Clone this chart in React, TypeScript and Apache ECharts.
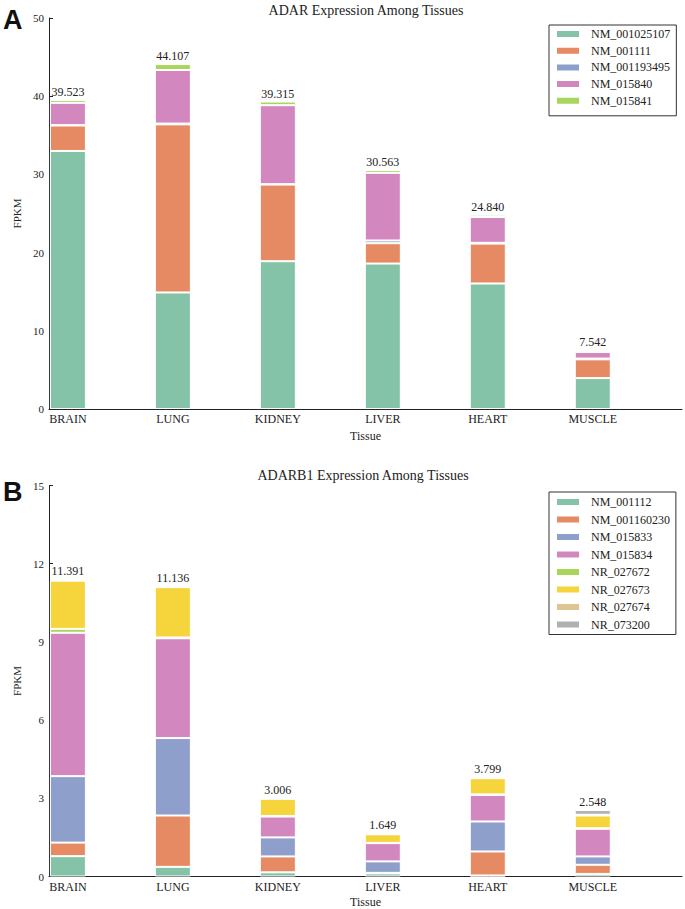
import React, { useEffect, useRef } from "react";
import * as echarts from "echarts";

const tissues = ["BRAIN", "LUNG", "KIDNEY", "LIVER", "HEART", "MUSCLE"];

// Panel A: ADAR isoforms (FPKM)
const adarNames = ["NM_001025107", "NM_001111", "NM_001193495", "NM_015840", "NM_015841"];
const adar_NM_001025107 = [33.0, 14.9, 18.9, 18.6, 16.05, 3.95];
const adar_NM_001111 = [3.25, 21.5, 9.8, 2.6, 5.1, 2.4];
const adar_NM_001193495 = [0.05, 0.1, 0.05, 0.35, 0.1, 0.1];
const adar_NM_015840 = [2.85, 6.85, 10.1, 8.65, 3.3, 0.85];
const adar_NM_015841 = [0.373, 0.757, 0.465, 0.363, 0.29, 0.242];

// Panel B: ADARB1 isoforms (FPKM)
const adarb1Names = ["NM_001112", "NM_001160230", "NM_015833", "NM_015834", "NR_027672", "NR_027673", "NR_027674", "NR_073200"];
const b_NM_001112 = [0.78, 0.37, 0.16, 0.12, 0.04, 0.1];
const b_NM_001160230 = [0.52, 1.97, 0.61, 0.02, 0.92, 0.35];
const b_NM_015833 = [2.55, 2.97, 0.73, 0.44, 1.15, 0.32];
const b_NM_015834 = [5.5, 3.83, 0.8, 0.7, 1.02, 1.06];
const b_NR_027672 = [0.15, 0.03, 0.02, 0.01, 0.02, 0.02];
const b_NR_027673 = [1.85, 1.93, 0.66, 0.33, 0.62, 0.49];
const b_NR_027674 = [0.02, 0.02, 0.01, 0.01, 0.015, 0.03];
const b_NR_073200 = [0.021, 0.016, 0.016, 0.019, 0.014, 0.178];

const adarTicks = [0, 10, 20, 30, 40, 50];
const adarb1Ticks = [0, 3, 6, 9, 12, 15];

const palette = ["#84c3a7", "#e58a62", "#8f9fcb", "#d387bf", "#a9d65a", "#f6d43c", "#dfc393", "#b0b0b0"];

const SERIF = '"Liberation Serif", "Times New Roman", serif';

export default function App() {
  const ref = useRef<HTMLDivElement>(null);

  useEffect(() => {
    if (!ref.current) return;
    const chart = echarts.init(ref.current, undefined, { renderer: "svg" });

    const adarSeriesData = [adar_NM_001025107, adar_NM_001111, adar_NM_001193495, adar_NM_015840, adar_NM_015841];
    const adarb1SeriesData = [b_NM_001112, b_NM_001160230, b_NM_015833, b_NM_015834, b_NR_027672, b_NR_027673, b_NR_027674, b_NR_073200];

    const totals = (arrs: number[][]) => tissues.map((_, i) => arrs.reduce((s, a) => s + a[i], 0));
    const adarTotals = totals(adarSeriesData);
    const adarb1Totals = totals(adarb1SeriesData);

    const tickIdx = tissues.map((_, i) => i);

    // x-range (in category index units) shown by the visible axes
    const xMin = -0.18;
    const xMax = 5.85;
    const axisLeft = 49;
    const axisWidth = 633;
    const pxPerCat = axisWidth / (xMax - xMin);
    const barGridLeft = axisLeft + (-0.5 - xMin) * pxPerCat;
    const barGridWidth = tissues.length * pxPerCat;

    // Display axes (visible)
    const makeDispX = (gridIndex: number, nameGap: number) => ({
      type: "value",
      gridIndex,
      min: xMin,
      max: xMax,
      splitLine: { show: false },
      axisLine: { show: true, onZero: false, lineStyle: { color: "#222", width: 1 } },
      axisTick: { show: true, inside: true, length: 4, customValues: tickIdx, lineStyle: { color: "#222" } },
      axisLabel: {
        customValues: tickIdx,
        formatter: (v: number) => tissues[Math.round(v)] ?? "",
        fontFamily: SERIF,
        fontSize: 12,
        color: "#222",
        margin: 4,
      },
      name: "Tissue",
      nameLocation: "middle",
      nameGap,
      nameTextStyle: { fontFamily: SERIF, fontSize: 12, color: "#222" },
    });

    const makeDispY = (gridIndex: number, max: number, interval: number) => ({
      type: "value",
      gridIndex,
      min: 0,
      max,
      interval,
      splitLine: { show: false },
      axisLine: { show: true, onZero: false, lineStyle: { color: "#222", width: 1 } },
      axisTick: { show: true, inside: true, length: 4, lineStyle: { color: "#222" } },
      axisLabel: { fontFamily: SERIF, fontSize: 11, color: "#222", margin: 5 },
      name: "FPKM",
      nameLocation: "middle",
      nameRotate: 90,
      nameGap: 19,
      nameTextStyle: { fontFamily: SERIF, fontSize: 11, color: "#222" },
    });

    // Bar axes (hidden)
    const makeBarX = (gridIndex: number) => ({
      type: "category",
      gridIndex,
      data: tissues,
      show: false,
      boundaryGap: true,
    });
    const makeBarY = (gridIndex: number, max: number) => ({
      type: "value",
      gridIndex,
      min: 0,
      max,
      show: false,
      splitLine: { show: false },
    });

    const makeSeries = (names: string[], datas: number[][], idx: number, stack: string, tot: number[]) =>
      names.map((name, k) => ({
        name,
        type: "bar",
        stack,
        xAxisIndex: idx,
        yAxisIndex: idx,
        barWidth: 36,
        data: datas[k],
        itemStyle: { color: palette[k], borderColor: "#ffffff", borderWidth: 1 },
        emphasis: { disabled: true },
        label:
          k === names.length - 1
            ? {
                show: true,
                position: "top",
                distance: 2,
                fontFamily: SERIF,
                fontSize: 12,
                color: "#222",
                formatter: (p: any) => tot[p.dataIndex].toFixed(3),
              }
            : { show: false },
      }));

    const legendCommon = {
      orient: "vertical",
      left: 549,
      itemWidth: 24,
      itemHeight: 8,
      icon: "rect",
      borderColor: "#333",
      borderWidth: 1,
      textStyle: { fontFamily: SERIF, fontSize: 12, color: "#222", lineHeight: 12, padding: [0, 0, 0, 6] },
      selectedMode: false,
    };

    const topA = 18;
    const topB = 485.5;
    const h = 391;
    const gridBase = { outerBoundsMode: "none", containLabel: false };

    chart.setOption({
      animation: false,
      backgroundColor: "#ffffff",
      grid: [
        { ...gridBase, left: axisLeft, top: topA, width: axisWidth, height: h },
        { ...gridBase, left: axisLeft, top: topB, width: axisWidth, height: h },
        { ...gridBase, left: barGridLeft, top: topA, width: barGridWidth, height: h },
        { ...gridBase, left: barGridLeft, top: topB, width: barGridWidth, height: h },
      ],
      xAxis: [makeDispX(0, 21), makeDispX(1, 19), makeBarX(2), makeBarX(3)],
      yAxis: [
        makeDispY(0, adarTicks[adarTicks.length - 1], adarTicks[1] - adarTicks[0]),
        makeDispY(1, adarb1Ticks[adarb1Ticks.length - 1], adarb1Ticks[1] - adarb1Ticks[0]),
        makeBarY(2, adarTicks[adarTicks.length - 1]),
        makeBarY(3, adarb1Ticks[adarb1Ticks.length - 1]),
      ],
      legend: [
        { ...legendCommon, top: 25, data: adarNames, itemGap: 4.7, padding: [3, 6, 9, 6] },
        { ...legendCommon, top: 492, data: adarb1Names, itemGap: 5.5, padding: [4, 6, 4, 6] },
      ],
      graphic: [
        { type: "text", left: 3, top: 6, style: { text: "A", font: 'bold 27px "Liberation Sans", Arial, sans-serif', fill: "#111" } },
        { type: "text", left: 3, top: 478, style: { text: "B", font: 'bold 27px "Liberation Sans", Arial, sans-serif', fill: "#111" } },
        { type: "text", x: 366, y: 10, style: { text: "ADAR Expression Among Tissues", font: '14px "Liberation Serif", serif', fill: "#222", textAlign: "center", textVerticalAlign: "middle" } },
        { type: "text", x: 363, y: 475, style: { text: "ADARB1 Expression Among Tissues", font: '14px "Liberation Serif", serif', fill: "#222", textAlign: "center", textVerticalAlign: "middle" } },
      ],
      series: [
        ...makeSeries(adarNames, adarSeriesData, 2, "adar", adarTotals),
        ...makeSeries(adarb1Names, adarb1SeriesData, 3, "adarb1", adarb1Totals),
      ],
    });

    return () => chart.dispose();
  }, []);

  return (
    <div
      ref={ref}
      style={{ position: "fixed", left: 0, top: 0, width: 685, height: 909, background: "#fff" }}
    />
  );
}
